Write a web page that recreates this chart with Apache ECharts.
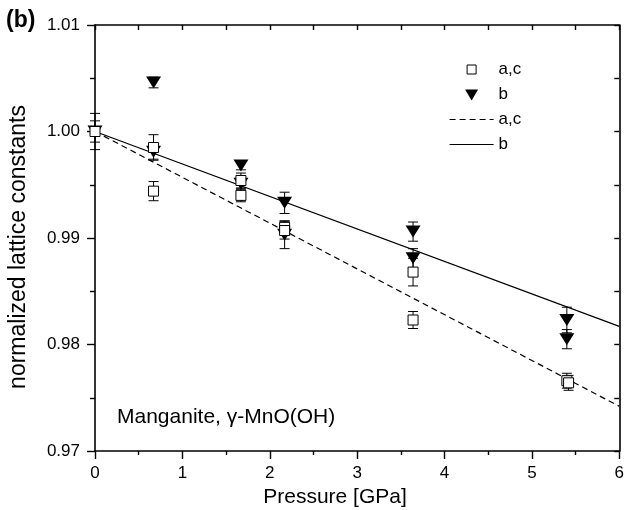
<!DOCTYPE html>
<html><head><meta charset="utf-8">
<script src="https://cdn.jsdelivr.net/npm/echarts@6/dist/echarts.min.js"></script>
<style>html,body{margin:0;padding:0;background:#fff}#c{width:627px;height:510px}</style>
</head><body><div id="c"></div>
<script>
// Data
const acP   = [0, 0.67, 0.67, 1.67, 1.67, 2.17, 2.17, 3.64, 3.64, 5.40, 5.42];
const acV   = [1.0000, 0.9985, 0.9944, 0.9954, 0.9940, 0.9910, 0.9907, 0.9868, 0.9823, 0.9766, 0.9764];
const acErr = [0.0017, 0.0012, 0.0009, 0.0007, 0.0006, 0.0006, 0.0008, 0.0013, 0.0008, 0.0007, 0.0007];
const bP    = [0, 0.67, 0.67, 1.67, 1.67, 2.17, 2.17, 3.64, 3.64, 5.40, 5.40];
const bV    = [1.0000, 1.0046, 0.9981, 0.9968, 0.9951, 0.9933, 0.9903, 0.9906, 0.9881, 0.9823, 0.9805];
const bErr  = [0.0010, 0.0005, 0.0007, 0.0004, 0.0005, 0.0010, 0.0013, 0.0009, 0.0009, 0.0012, 0.0009];
const fitP  = [0, 6];
const fitAC = [1.0000, 0.9742];
const fitB  = [1.0000, 0.9817];
const xTicks = [0, 1, 2, 3, 4, 5, 6];
const yTicks = [0.97, 0.98, 0.99, 1.00, 1.01];

const FONT = '"Liberation Sans", Arial, sans-serif';
const chart = echarts.init(document.getElementById('c'), null, {renderer: 'canvas'});

function pts(xs, ys) { return xs.map((x, i) => [x, ys[i]]); }
function errData(xs, ys, es) { return xs.map((x, i) => [x, ys[i] - es[i], ys[i] + es[i]]); }
function errRender(params, api) {
  const x = api.value(0), lo = api.value(1), hi = api.value(2);
  const pLo = api.coord([x, lo]), pHi = api.coord([x, hi]);
  const w = 5;
  const st = {stroke: '#000', lineWidth: 1};
  return {type: 'group', children: [
    {type: 'line', shape: {x1: pLo[0], y1: pLo[1], x2: pHi[0], y2: pHi[1]}, style: st},
    {type: 'line', shape: {x1: pLo[0]-w, y1: pLo[1], x2: pLo[0]+w, y2: pLo[1]}, style: st},
    {type: 'line', shape: {x1: pHi[0]-w, y1: pHi[1], x2: pHi[0]+w, y2: pHi[1]}, style: st}
  ]};
}

const axisLine = {show: true, onZero: false, lineStyle: {color: '#000', width: 1.6}};
const tickStyle = {color: '#000', width: 1.4};
const xMin = xTicks[0], xMax = xTicks[xTicks.length-1], xInt = xTicks[1]-xTicks[0];
const yMin = yTicks[0], yMax = yTicks[yTicks.length-1], yInt = +(yTicks[1]-yTicks[0]).toFixed(3);

const DASH = [6, 4];
const SQ_ICON  = 'path://M0,0M14,14M2.5,2.5L11.5,2.5L11.5,11.5L2.5,11.5Z';
const TRI_ICON = 'path://M0,0M14,14M0.5,2L13.5,2L7,13Z';
const HIDE = {color: 'rgba(0,0,0,0)', borderColor: 'rgba(0,0,0,0)', borderWidth: 0};

chart.setOption({
  animation: false,
  backgroundColor: '#fff',
  grid: {left: 95, right: 5, top: 25, bottom: 59, containLabel: false},
  xAxis: [
    {type: 'value', position: 'bottom', min: xMin, max: xMax, interval: xInt,
     axisLine: axisLine,
     axisTick: {show: true, inside: false, length: 8, lineStyle: tickStyle},
     minorTick: {show: true, splitNumber: 2, length: 4, lineStyle: tickStyle},
     splitLine: {show: false},
     axisLabel: {color: '#000', fontSize: 17, fontFamily: FONT, margin: 14}},
    {type: 'value', position: 'top', min: xMin, max: xMax, interval: xInt,
     axisLine: axisLine,
     axisTick: {show: true, inside: true, length: 5, lineStyle: tickStyle},
     minorTick: {show: true, splitNumber: 2, length: 5, lineStyle: tickStyle},
     splitLine: {show: false}, axisLabel: {show: false}}
  ],
  yAxis: [
    {type: 'value', position: 'left', min: yMin, max: yMax, interval: yInt,
     axisLine: axisLine,
     axisTick: {show: true, inside: false, length: 8, lineStyle: tickStyle},
     minorTick: {show: true, splitNumber: 2, length: 5, lineStyle: tickStyle},
     splitLine: {show: false},
     axisLabel: {color: '#000', fontSize: 17, fontFamily: FONT, margin: 15, formatter: v => v.toFixed(2)}},
    {type: 'value', position: 'right', min: yMin, max: yMax, interval: yInt,
     axisLine: axisLine,
     axisTick: {show: true, inside: true, length: 5, lineStyle: tickStyle},
     minorTick: {show: true, splitNumber: 2, length: 5, lineStyle: tickStyle},
     splitLine: {show: false}, axisLabel: {show: false}}
  ],
  legend: {
    orient: 'vertical', left: 444, top: 56, itemWidth: 44, itemHeight: 14, itemGap: 8,
    symbolKeepAspect: true,
    data: [
      {name: 'a,c', icon: SQ_ICON, itemStyle: {color: '#fff', borderColor: '#000', borderWidth: 1, opacity: 1}},
      {name: 'b', icon: TRI_ICON, itemStyle: {color: '#000', borderWidth: 0, opacity: 1}},
      {name: 'a,c ', itemStyle: HIDE, lineStyle: {color: '#000', width: 1.2, type: DASH}},
      {name: 'b ', itemStyle: HIDE, lineStyle: {color: '#000', width: 1.2, type: 'solid'}}
    ],
    formatter: n => n.trim(),
    textStyle: {color: '#000', fontSize: 17, fontFamily: FONT},
    selectedMode: false
  },
  graphic: [
    {type: 'text', left: 6, top: 9, style: {text: '(b)', fill: '#000', font: 'bold 23px ' + FONT}},
    {type: 'text', left: 117, top: 407, style: {text: 'Manganite, γ-MnO(OH)', fill: '#000', font: '21px ' + FONT}},
    {type: 'text', x: 335, y: 497, style: {text: 'Pressure [GPa]', fill: '#000', font: '21px ' + FONT, align: 'center', verticalAlign: 'middle'}},
    {type: 'text', x: 19, y: 247, rotation: Math.PI / 2,
     style: {text: 'normalized lattice constants', fill: '#000', font: '23px ' + FONT, align: 'center', verticalAlign: 'middle'}}
  ],
  series: [
    {name: 'a,c ', type: 'line', data: pts(fitP, fitAC), symbol: 'none', z: 2,
     lineStyle: {color: '#000', width: 1.2, type: DASH}, itemStyle: {color: 'rgba(0,0,0,0)'}},
    {name: 'b ', type: 'line', data: pts(fitP, fitB), symbol: 'none', z: 2,
     lineStyle: {color: '#000', width: 1.2, type: 'solid'}, itemStyle: {color: 'rgba(0,0,0,0)'}},
    {name: 'acErr', type: 'custom', renderItem: errRender, data: errData(acP, acV, acErr), z: 3, encode: {x: 0, y: [1, 2]}},
    {name: 'bErr', type: 'custom', renderItem: errRender, data: errData(bP, bV, bErr), z: 3, encode: {x: 0, y: [1, 2]}},
    {name: 'b', type: 'scatter', data: pts(bP, bV), symbol: 'triangle', symbolRotate: 180, symbolSize: [15, 12], z: 4,
     itemStyle: {color: '#000', opacity: 1}},
    {name: 'a,c', type: 'scatter', data: pts(acP, acV), symbol: 'rect', symbolSize: 10, z: 5,
     itemStyle: {color: '#fff', borderColor: '#000', borderWidth: 1, opacity: 1}}
  ]
});
</script></body></html>
